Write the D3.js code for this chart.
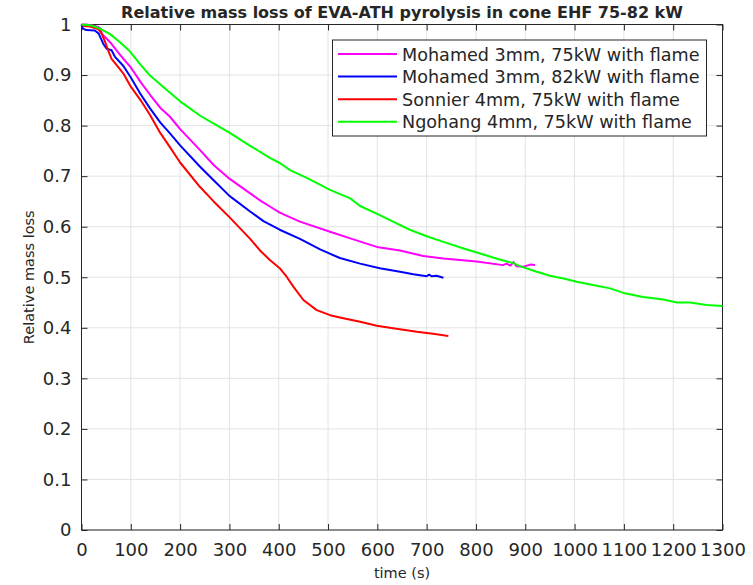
<!DOCTYPE html>
<html><head><meta charset="utf-8">
<script src="https://cdn.jsdelivr.net/npm/d3@7"></script>
<style>body{margin:0;background:#fff}svg{display:block}text{font-family:"DejaVu Sans",sans-serif;fill:#262626}</style>
</head><body><svg id="c" width="753" height="585"></svg>
<script>
const title = "Relative mass loss of EVA-ATH pyrolysis in cone EHF 75-82 kW";
const xLabel = "time (s)";
const yLabel = "Relative mass loss";
const xTicks = [0,100,200,300,400,500,600,700,800,900,1000,1100,1200,1300];
const yTicks = [0,0.1,0.2,0.3,0.4,0.5,0.6,0.7,0.8,0.9,1];
const seriesNames = ["Mohamed 3mm, 75kW with flame","Mohamed 3mm, 82kW with flame","Sonnier 4mm, 75kW with flame","Ngohang 4mm, 75kW with flame"];
const seriesColors = ["#ff00ff","#0000ff","#ff0000","#00ff00"];

const mohamed75T = [0,10,27,34,39,41,58,71,85,100,120,139,160,179,200,240,268,300,342,362,382,402,443,504,545,599,646,693,734,801,855,862,870,876,882,896,910,920];
const mohamed75V = [1.0,1.0,0.997,0.995,0.992,0.982,0.965,0.949,0.932,0.915,0.886,0.861,0.835,0.818,0.793,0.752,0.722,0.695,0.666,0.652,0.640,0.628,0.610,0.590,0.577,0.560,0.553,0.542,0.537,0.531,0.524,0.527,0.523,0.530,0.522,0.521,0.525,0.524];

const mohamed82T = [0,3,10,27,35,44,51,61,68,85,100,120,139,160,179,200,240,268,300,342,369,402,443,484,524,565,605,646,673,700,705,710,720,734];
const mohamed82V = [1.0,0.992,0.989,0.988,0.982,0.962,0.952,0.949,0.936,0.918,0.895,0.862,0.834,0.806,0.785,0.761,0.719,0.692,0.661,0.630,0.611,0.594,0.576,0.555,0.538,0.527,0.518,0.511,0.506,0.502,0.505,0.502,0.503,0.499];

const sonnierT = [0,5,17,27,34,41,48,54,61,75,85,100,120,139,160,179,200,240,268,300,342,362,382,402,416,430,450,477,504,531,565,599,632,680,713,744];
const sonnierV = [1.0,0.997,0.996,0.993,0.991,0.982,0.965,0.949,0.932,0.915,0.903,0.877,0.850,0.821,0.785,0.758,0.727,0.679,0.650,0.619,0.576,0.553,0.534,0.518,0.501,0.481,0.455,0.435,0.425,0.419,0.412,0.404,0.399,0.392,0.388,0.384];

const ngohangT = [0,20,37,58,78,98,120,139,170,200,240,270,300,342,382,402,423,460,504,545,565,605,640,666,700,734,775,815,848,876,889,920,950,980,1004,1045,1072,1099,1139,1180,1207,1234,1268,1300];
const ngohangV = [1.0,0.998,0.992,0.981,0.965,0.947,0.920,0.899,0.873,0.848,0.820,0.803,0.786,0.760,0.736,0.726,0.712,0.695,0.673,0.656,0.641,0.623,0.606,0.594,0.581,0.570,0.557,0.545,0.535,0.528,0.522,0.512,0.503,0.497,0.491,0.483,0.478,0.469,0.461,0.456,0.450,0.450,0.445,0.443];

const series = [[mohamed75T,mohamed75V],[mohamed82T,mohamed82V],[sonnierT,sonnierV],[ngohangT,ngohangV]];

const L=81.5, R=722.5, T=24.5, B=530;
const svg = d3.select("#c");
const x = d3.scaleLinear().domain([0,1300]).range([L,R]);
const y = d3.scaleLinear().domain([0,1]).range([B,T]);

// grid
const g = svg.append("g");
g.selectAll(".vg").data(xTicks).enter().append("line")
 .attr("x1",d=>x(d)).attr("x2",d=>x(d)).attr("y1",T).attr("y2",B)
 .attr("stroke","#e3e3e3").attr("stroke-width",1);
g.selectAll(".hg").data(yTicks).enter().append("line")
 .attr("y1",d=>y(d)).attr("y2",d=>y(d)).attr("x1",L).attr("x2",R)
 .attr("stroke","#e3e3e3").attr("stroke-width",1);

// axes
const ax = d3.axisBottom(x).tickValues(xTicks).tickSize(-6).tickPadding(13).tickFormat(d3.format("d"));
const axT = d3.axisTop(x).tickValues(xTicks).tickSize(-6).tickFormat("");
const ay = d3.axisLeft(y).tickValues(yTicks).tickSize(-6).tickPadding(10).tickFormat(d=>d===0||d===1?String(d):d3.format(".1f")(d));
const ayR = d3.axisRight(y).tickValues(yTicks).tickSize(-6).tickFormat("");
function style(sel){
  sel.selectAll("path").attr("stroke","#262626");
  sel.selectAll("line").attr("stroke","#262626");
  sel.selectAll("text").attr("fill","#262626").style("font-family","DejaVu Sans, sans-serif").style("font-size","18px");
}
svg.append("g").attr("transform",`translate(0,${B})`).call(ax).call(style);
svg.append("g").attr("transform",`translate(0,${T})`).call(axT).call(style);
svg.append("g").attr("transform",`translate(${L},0)`).call(ay).call(style);
svg.append("g").attr("transform",`translate(${R},0)`).call(ayR).call(style);
svg.selectAll(".domain").attr("d",null);
svg.append("rect").attr("x",L).attr("y",T).attr("width",R-L).attr("height",B-T)
 .attr("fill","none").attr("stroke","#262626").attr("stroke-width",1);

// lines
const line = d3.line().x(d=>x(d[0])).y(d=>y(d[1]));
series.forEach((s,i)=>{
  const pts = s[0].map((t,j)=>[t,s[1][j]]);
  svg.append("path").datum(pts).attr("d",line).attr("fill","none")
   .attr("stroke",seriesColors[i]).attr("stroke-width",2).attr("stroke-linejoin","round");
});

// title & labels
svg.append("text").attr("x",(L+R)/2).attr("y",18).attr("text-anchor","middle")
 .style("font-size","16px").style("font-weight","bold").attr("fill","#000").text(title);
svg.append("text").attr("x",(L+R)/2).attr("y",578).attr("text-anchor","middle")
 .style("font-size","14.5px").text(xLabel);
svg.append("text").attr("transform",`translate(34,${(T+B)/2}) rotate(-90)`).attr("text-anchor","middle")
 .style("font-size","14.5px").text(yLabel);

// legend
const lg = svg.append("g");
lg.append("rect").attr("x",332.5).attr("y",40).attr("width",374).attr("height",96)
 .attr("fill","#fff").attr("stroke","#262626").attr("stroke-width",1);
seriesNames.forEach((n,i)=>{
  const yy = 54 + i*22.6;
  lg.append("line").attr("x1",338).attr("x2",397).attr("y1",yy).attr("y2",yy)
   .attr("stroke",seriesColors[i]).attr("stroke-width",2);
  lg.append("text").attr("x",402).attr("y",yy+6.5).style("font-size","17.6px").attr("fill","#000").text(n);
});
</script></body></html>
